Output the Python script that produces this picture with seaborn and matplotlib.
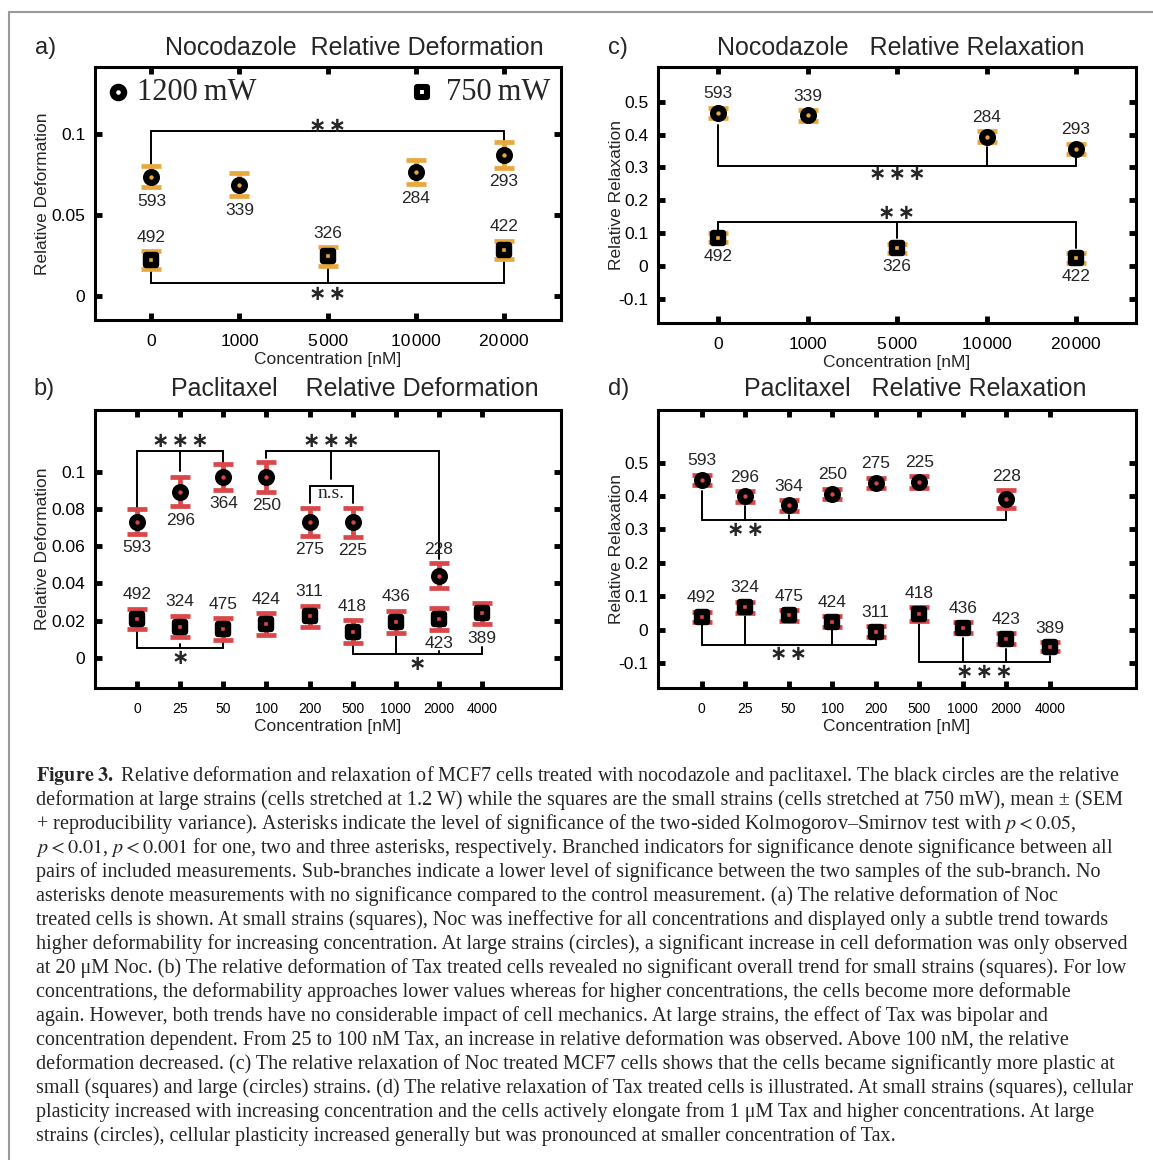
import numpy as np
import pandas as pd
import matplotlib
matplotlib.use("Agg")
import matplotlib.pyplot as plt
from matplotlib.lines import Line2D
import seaborn as sns

sns.set_style("ticks", {"xtick.direction": "in", "ytick.direction": "in",
                        "xtick.top": True, "ytick.right": True})
plt.rcParams["font.family"] = ["Liberation Sans", "DejaVu Sans"]
plt.rcParams["mathtext.fontset"] = "stix"

ORANGE = "#E8A840"
RED = "#D9474A"
SERIF = ["Liberation Serif", "DejaVu Serif"]

# ---------- data ----------
noc_conc = [0, 1000, 5000, 10000, 20000]
noc_ticks = ["0", "1000", "5\u200a000", "10\u200a000", "20\u200a000"]
tax_conc = [0, 25, 50, 100, 200, 500, 1000, 2000, 4000]
tax_ticks = ["0", "25", "50", "100", "200", "500", "1000", "2000", "4000"]

# a) Nocodazole, relative deformation
a_hi_conc = [0, 1000, 10000, 20000]
a_hi = [0.0735, 0.0684, 0.0761, 0.0870]
a_hi_err = [0.0066, 0.0070, 0.0073, 0.0080]
a_hi_n = [593, 339, 284, 293]
a_lo_conc = [0, 5000, 20000]
a_lo = [0.0219, 0.0243, 0.0283]
a_lo_err = [0.0056, 0.0057, 0.0057]
a_lo_n = [492, 326, 422]

# c) Nocodazole, relative relaxation
c_hi_conc = [0, 1000, 10000, 20000]
c_hi = [0.465, 0.458, 0.394, 0.356]
c_hi_err = [0.016, 0.016, 0.016, 0.016]
c_hi_n = [593, 339, 284, 293]
c_lo_conc = [0, 5000, 20000]
c_lo = [0.087, 0.055, 0.025]
c_lo_err = [0.014, 0.014, 0.014]
c_lo_n = [492, 326, 422]

# b) Paclitaxel, relative deformation
b_hi_conc = [0, 25, 50, 100, 200, 500, 2000]
b_hi = [0.0732, 0.0892, 0.0970, 0.0972, 0.0732, 0.0728, 0.0441]
b_hi_err = [0.0065, 0.0078, 0.0068, 0.0080, 0.0075, 0.0077, 0.0067]
b_hi_n = [593, 296, 364, 250, 275, 225, 228]
b_lo_conc = [0, 25, 50, 100, 200, 500, 1000, 2000, 4000]
b_lo = [0.0210, 0.0169, 0.0156, 0.0183, 0.0224, 0.0142, 0.0195, 0.0210, 0.0240]
b_lo_err = [0.0055, 0.0058, 0.0057, 0.0058, 0.0057, 0.0060, 0.0060, 0.0057, 0.0058]
b_lo_n = [492, 324, 475, 424, 311, 418, 436, 423, 389]

# d) Paclitaxel, relative relaxation
d_hi_conc = [0, 25, 50, 100, 200, 500, 2000]
d_hi = [0.448, 0.399, 0.372, 0.406, 0.439, 0.441, 0.391]
d_hi_err = [0.016, 0.016, 0.016, 0.016, 0.016, 0.018, 0.027]
d_hi_n = [593, 296, 364, 250, 275, 225, 228]
d_lo_conc = [0, 25, 50, 100, 200, 500, 1000, 2000, 4000]
d_lo = [0.0375, 0.067, 0.0425, 0.0237, -0.006, 0.047, 0.006, -0.027, -0.051]
d_lo_err = [0.016, 0.016, 0.016, 0.016, 0.016, 0.020, 0.016, 0.016, 0.014]
d_lo_n = [492, 324, 475, 424, 311, 418, 436, 423, 389]

# where the n-labels sit: a = above, b = below
a_hi_pos = ["b", "b", "b", "b"]
a_lo_pos = ["a", "a", "a"]
c_hi_pos = ["a", "a", "a", "a"]
c_lo_pos = ["b", "b", "b"]
b_hi_pos = ["b", "b", "b", "b", "b", "b", "a"]
b_lo_pos = ["a", "a", "a", "a", "a", "a", "a", "b", "b"]
d_hi_pos = ["a"] * 7
d_lo_pos = ["a"] * 9

STAR2 = "\u2217\u200a\u2217"
STAR3 = "\u2217\u200a\u2217\u200a\u2217"


def draw_series(ax, conc_all, conc, vals, errs, ns, pos, marker, color):
    x = [conc_all.index(c) for c in conc]
    df = pd.DataFrame({"x": x, "y": vals})
    ax.errorbar(x, vals, yerr=errs, fmt="none", ecolor=color, elinewidth=3.4,
                capsize=7.5, capthick=3.4, zorder=2)
    if marker == "o":
        sns.scatterplot(data=df, x="x", y="y", marker="o", s=60, color=color,
                        edgecolor="black", linewidth=4.5, ax=ax, zorder=3)
    else:
        sns.scatterplot(data=df, x="x", y="y", marker="s", s=52, color=color,
                        edgecolor="black", linewidth=4.6, ax=ax, zorder=3)
    for xi, yi, e, n, p in zip(x, vals, errs, ns, pos):
        if p == "a":
            ax.annotate(str(n), (xi, yi + e), xytext=(0, 10), textcoords="offset points",
                        ha="center", va="center", fontsize=12.5)
        else:
            ax.annotate(str(n), (xi, yi - e), xytext=(0, -10), textcoords="offset points",
                        ha="center", va="center", fontsize=12.5)


def bracket(ax, xs, ybar, tips, stars, ystar, xstar):
    ax.plot([xs[0], xs[-1]], [ybar, ybar], color="black", lw=1.4, zorder=1)
    for xi, yt in zip(xs, tips):
        ax.plot([xi, xi], [ybar, yt], color="black", lw=1.4, zorder=1)
    if stars:
        ax.text(xstar, ystar, stars, ha="center", va="center", fontsize=15,
                family=["DejaVu Sans"], fontweight="bold")


def style_axes(ax, ticks, tick_size, xlim, ylim, yticks, ylabels, ylabel, title, title_x,
               panel, panel_x, label_x):
    ax.set_xlim(*xlim)
    ax.set_ylim(*ylim)
    ax.set_xticks(range(len(ticks)))
    ax.set_xticklabels(ticks, fontsize=tick_size)
    ax.set_yticks(yticks)
    ax.set_yticklabels(ylabels, fontsize=12.5)
    ax.xaxis.set_ticks_position("both")
    ax.yaxis.set_ticks_position("both")
    ax.tick_params(axis="both", which="major", direction="in", length=5, width=3.5,
                   color="black", labelcolor="black", pad=7)
    ax.tick_params(axis="x", pad=10)
    ax.set_axisbelow(False)
    for s in ax.spines.values():
        s.set_visible(True)
        s.set_linewidth(2.2)
        s.set_color("black")
    ax.set_xlabel("Concentration [nM]", fontsize=12.5, labelpad=2)
    ax.set_ylabel(ylabel, fontsize=12.5)
    ax.yaxis.set_label_coords(label_x, 0.5)
    ax.text(title_x, 1.075, title, transform=ax.transAxes, ha="center", va="center", fontsize=18)
    ax.text(panel_x, 1.075, panel, transform=ax.transAxes, ha="center", va="center", fontsize=17)


fig = plt.figure(figsize=(11.53, 11.60), dpi=100)

# frame lines of the page
fig.add_artist(Line2D([9 / 1153, 1], [1 - 12 / 1160, 1 - 12 / 1160], color="#999999", lw=1.5))
fig.add_artist(Line2D([9 / 1153, 9 / 1153], [0, 1 - 12 / 1160], color="#999999", lw=1.5))

ax_a = fig.add_axes([0.0824, 0.7241, 0.4042, 0.2181])
ax_c = fig.add_axes([0.5707, 0.7216, 0.4146, 0.2206])
ax_b = fig.add_axes([0.0824, 0.4069, 0.4042, 0.2397])
ax_d = fig.add_axes([0.5707, 0.4069, 0.4146, 0.2397])

# ---------- a ----------
draw_series(ax_a, noc_conc, a_hi_conc, a_hi, a_hi_err, a_hi_n, a_hi_pos, "o", ORANGE)
draw_series(ax_a, noc_conc, a_lo_conc, a_lo, a_lo_err, a_lo_n, a_lo_pos, "s", ORANGE)
bracket(ax_a, [0, 4], 0.1016, [0.0805, 0.0955], STAR2, 0.1048, 2)
bracket(ax_a, [0, 2, 4], 0.0081, [0.0160, 0.0183, 0.0224], STAR2, 0.0012, 2)
style_axes(ax_a, noc_ticks, 12.5, (-0.64, 4.65), (-0.015, 0.141), [0, 0.05, 0.1],
           ["0", "0.05", "0.1"], "Relative Deformation", "Nocodazole  Relative Deformation",
           0.556, "a)", -0.107, -0.097)
ax_a.scatter([0.049], [0.90], s=64, marker="o", facecolor="white", edgecolor="black",
             linewidth=4.6, transform=ax_a.transAxes, zorder=4)
ax_a.text(0.090, 0.90, "1200\u2009mW", transform=ax_a.transAxes, ha="left", va="center",
          fontsize=22, family=SERIF)
ax_a.scatter([0.702], [0.90], s=52, marker="s", facecolor="white", edgecolor="black",
             linewidth=4.4, transform=ax_a.transAxes, zorder=4)
ax_a.text(0.753, 0.90, "750\u2009mW", transform=ax_a.transAxes, ha="left", va="center",
          fontsize=22, family=SERIF)

# ---------- c ----------
draw_series(ax_c, noc_conc, c_hi_conc, c_hi, c_hi_err, c_hi_n, c_hi_pos, "o", ORANGE)
draw_series(ax_c, noc_conc, c_lo_conc, c_lo, c_lo_err, c_lo_n, c_lo_pos, "s", ORANGE)
bracket(ax_c, [0, 3, 4], 0.305, [0.43, 0.362, 0.332], STAR3, 0.280, 2)
bracket(ax_c, [0, 2, 4], 0.135, [0.11, 0.085, 0.055], STAR2, 0.162, 2)
style_axes(ax_c, noc_ticks, 12.5, (-0.67, 4.67), (-0.172, 0.605),
           [-0.1, 0, 0.1, 0.2, 0.3, 0.4, 0.5],
           ["-0.1", "0", "0.1", "0.2", "0.3", "0.4", "0.5"], "Relative Relaxation",
           "Nocodazole   Relative Relaxation", 0.508, "c)", -0.084, -0.071)

# ---------- b ----------
draw_series(ax_b, tax_conc, b_hi_conc, b_hi, b_hi_err, b_hi_n, b_hi_pos, "o", RED)
draw_series(ax_b, tax_conc, b_lo_conc, b_lo, b_lo_err, b_lo_n, b_lo_pos, "s", RED)
bracket(ax_b, [0, 1, 2], 0.1112, [0.0805, 0.1005, 0.1045], STAR3, 0.1165, 1)
bracket(ax_b, [3, 4.5, 7], 0.1112, [0.1070, 0.0959, 0.053], STAR3, 0.1165, 4.5)
bracket(ax_b, [4, 5], 0.0924, [0.0830, 0.0830], "", 0, 0)
ax_b.text(4.5, 0.0880, "n.s.", ha="center", va="center", fontsize=14, family=SERIF)
bracket(ax_b, [0, 1, 2], 0.0053, [0.0148, 0.0076, 0.0088], "\u2217", 0.0002, 1)
bracket(ax_b, [5, 6, 7, 8], 0.0021, [0.0076, 0.0120, 0.0040, 0.0062], "\u2217", -0.0032, 6.5)
style_axes(ax_b, tax_ticks, 10, (-0.98, 9.84), (-0.016, 0.133),
           [0, 0.02, 0.04, 0.06, 0.08, 0.1],
           ["0", "0.02", "0.04", "0.06", "0.08", "0.1"], "Relative Deformation",
           "Paclitaxel    Relative Deformation", 0.558, "b)", -0.109, -0.097)

# ---------- d ----------
draw_series(ax_d, tax_conc, d_hi_conc, d_hi, d_hi_err, d_hi_n, d_hi_pos, "o", RED)
draw_series(ax_d, tax_conc, d_lo_conc, d_lo, d_lo_err, d_lo_n, d_lo_pos, "s", RED)
bracket(ax_d, [0, 1, 2, 7], 0.327, [0.416, 0.3715, 0.344, 0.3617], STAR2, 0.297, 1)
bracket(ax_d, [0, 1, 3, 4], -0.046, [0.014, 0.050, -0.002, -0.031], STAR2, -0.073, 2)
bracket(ax_d, [5, 6, 7, 8], -0.098, [0.018, -0.024, -0.058, -0.078], STAR3, -0.127, 6.5)
style_axes(ax_d, tax_ticks, 10, (-1.0, 9.98), (-0.175, 0.658),
           [-0.1, 0, 0.1, 0.2, 0.3, 0.4, 0.5],
           ["-0.1", "0", "0.1", "0.2", "0.3", "0.4", "0.5"], "Relative Relaxation",
           "Paclitaxel   Relative Relaxation", 0.538, "d)", -0.082, -0.071)

# ---------- caption ----------
caption = [
    r"$\mathbf{Figure\ 3.}$ Relative deformation and relaxation of MCF7 cells treated with nocodazole and paclitaxel. The black circles are the relative",
    "deformation at large strains (cells stretched at 1.2 W) while the squares are the small strains (cells stretched at 750 mW), mean \u00b1 (SEM",
    r"+ reproducibility variance). Asterisks indicate the level of significance of the two-sided Kolmogorov–Smirnov test with $p < 0.05$,",
    r"$p < 0.01$, $p < 0.001$ for one, two and three asterisks, respectively. Branched indicators for significance denote significance between all",
    "pairs of included measurements. Sub-branches indicate a lower level of significance between the two samples of the sub-branch. No",
    "asterisks denote measurements with no significance compared to the control measurement. (a) The relative deformation of Noc",
    "treated cells is shown. At small strains (squares), Noc was ineffective for all concentrations and displayed only a subtle trend towards",
    "higher deformability for increasing concentration. At large strains (circles), a significant increase in cell deformation was only observed",
    "at 20 \u03bcM Noc. (b) The relative deformation of Tax treated cells revealed no significant overall trend for small strains (squares). For low",
    "concentrations, the deformability approaches lower values whereas for higher concentrations, the cells become more deformable",
    "again. However, both trends have no considerable impact of cell mechanics. At large strains, the effect of Tax was bipolar and",
    "concentration dependent. From 25 to 100 nM Tax, an increase in relative deformation was observed. Above 100 nM, the relative",
    "deformation decreased. (c) The relative relaxation of Noc treated MCF7 cells shows that the cells became significantly more plastic at",
    "small (squares) and large (circles) strains. (d) The relative relaxation of Tax treated cells is illustrated. At small strains (squares), cellular",
    "plasticity increased with increasing concentration and the cells actively elongate from 1 \u03bcM Tax and higher concentrations. At large",
    "strains (circles), cellular plasticity increased generally but was pronounced at smaller concentration of Tax.",
]
for i, line in enumerate(caption):
    fig.text(36 / 1153, 1 - (781 + 24 * i) / 1160, line, ha="left", va="baseline",
             fontsize=14.5, family=SERIF)

plt.savefig("out.png", dpi=100)
